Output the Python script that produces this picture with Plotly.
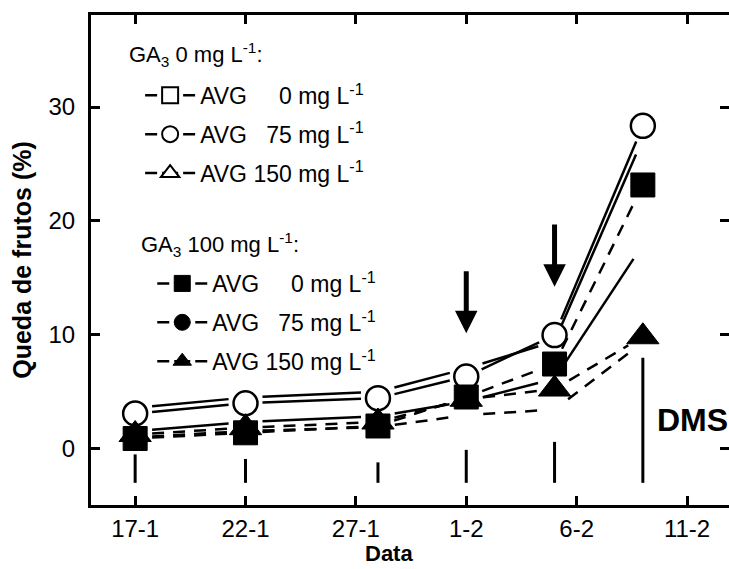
import math
from datetime import datetime, timedelta
import plotly.graph_objects as go

# ---------------- data ----------------
dates = ["2004-01-17", "2004-01-22", "2004-01-28", "2004-02-01", "2004-02-05", "2004-02-09"]

ga0_avg0 = [3.55, 4.45, 4.95, 7.0, 9.4, 27.2]
ga0_avg75 = [3.05, 3.95, 4.4, 6.3, 9.95, 28.35]
ga0_avg150 = [1.5, 2.3, 2.8, 4.1, 6.1, 17.9]
ga100_avg0 = [0.85, 1.35, 1.95, 4.5, 7.4, 23.15]
ga100_avg75 = [0.95, 1.5, 1.85, 2.9, 3.4, 9.3]
ga100_avg150 = [1.2, 1.8, 2.3, 4.3, 5.2, 9.8]

dms_values = [2.5, 2.1, 1.8, 2.9, 3.6, 11.0]
dms_base = -3.05

tick_dates = ["2004-01-17", "2004-01-22", "2004-01-27", "2004-02-01", "2004-02-06", "2004-02-11"]
tick_labels = ["17-1", "22-1", "27-1", "1-2", "6-2", "11-2"]
y_ticks = [0, 10, 20, 30]

arrow_dates = ["2004-02-01", "2004-02-05"]
arrow_tip = [10.1, 14.2]
arrow_tail = [15.7, 19.8]

# ---------------- layout constants ----------------
W, H = 729, 569
ML, MR, MT, MB = 91, 0, 15, 64
X0 = datetime(2004, 1, 15, 0, 0)
X1 = datetime(2004, 2, 12, 21, 40)
YMIN, YMAX = -5.0, 38.1
PW = W - ML - MR
PH = H - MT - MB
SPAN = (X1 - X0).total_seconds()
FONT = "Liberation Sans, Arial, sans-serif"


def to_px(d, v):
    t = datetime.fromisoformat(d)
    return ((t - X0).total_seconds() / SPAN * PW, (v - YMIN) / (YMAX - YMIN) * PH)


def from_px(px, py):
    t = X0 + timedelta(seconds=px / PW * SPAN)
    return t.strftime("%Y-%m-%d %H:%M:%S"), py / PH * (YMAX - YMIN) + YMIN


def gapped(ds, vs, gap=17):
    xs, ys = [], []
    for i in range(len(vs) - 1):
        a = to_px(ds[i], vs[i])
        b = to_px(ds[i + 1], vs[i + 1])
        dx, dy = b[0] - a[0], b[1] - a[1]
        L = math.hypot(dx, dy)
        ux, uy = dx / L, dy / L
        p = from_px(a[0] + ux * gap, a[1] + uy * gap)
        q = from_px(b[0] - ux * gap, b[1] - uy * gap)
        xs += [p[0], q[0], None]
        ys += [p[1], q[1], None]
    return xs, ys


fig = go.Figure()

series = [
    (ga0_avg0, "solid"),
    (ga0_avg75, "solid"),
    (ga0_avg150, "solid"),
    (ga100_avg0, "12px,9px"),
    (ga100_avg75, "12px,9px"),
    (ga100_avg150, "12px,9px"),
]
for vals, dash in series:
    xs, ys = gapped(dates, vals)
    fig.add_trace(go.Scatter(x=xs, y=ys, mode="lines", showlegend=False,
                             line=dict(color="black", width=2.5, dash=dash),
                             hoverinfo="skip"))

# DMS bars
bx, by = [], []
for d, v in zip(dates, dms_values):
    bx += [d, d, None]
    by += [dms_base, dms_base + v, None]
fig.add_trace(go.Scatter(x=bx, y=by, mode="lines", showlegend=False,
                         line=dict(color="black", width=3), hoverinfo="skip"))

# visible markers
fig.add_trace(go.Scatter(x=dates, y=ga0_avg75, mode="markers", showlegend=False,
                         marker=dict(symbol="circle", size=24, color="white",
                                     line=dict(color="black", width=2.5))))
fig.add_trace(go.Scatter(x=dates, y=ga100_avg150, mode="markers", showlegend=False,
                         marker=dict(symbol="triangle-up", size=28, color="black",
                                     line=dict(color="black", width=1))))
fig.add_trace(go.Scatter(x=dates, y=ga100_avg0, mode="markers", showlegend=False,
                         marker=dict(symbol="square", size=24, color="black",
                                     line=dict(color="black", width=1))))

# legend entries
FS = "\u2007"
labels = ["AVG " + FS + FS + "0 mg L<sup>-1</sup>",
          "AVG " + FS + "75 mg L<sup>-1</sup>",
          "AVG 150 mg L<sup>-1</sup>"]
syms = ["square", "circle", "triangle-up"]
LEG_DASH = "12px,5px,16px,5px,12px,40px"
for i, (lab, sym) in enumerate(zip(labels, syms)):
    fig.add_trace(go.Scatter(x=[None], y=[None], mode="lines+markers", name=lab,
                             legend="legend", legendgroup="a%d" % i,
                             line=dict(color="black", width=2.5, dash=LEG_DASH),
                             marker=dict(symbol=sym, size=16, color="white",
                                         line=dict(color="black", width=2))))
for i, (lab, sym) in enumerate(zip(labels, syms)):
    fig.add_trace(go.Scatter(x=[None], y=[None], mode="lines+markers", name=lab,
                             legend="legend2", legendgroup="b%d" % i,
                             line=dict(color="black", width=2.5, dash=LEG_DASH),
                             marker=dict(symbol=sym, size=16, color="black",
                                         line=dict(color="black", width=1))))

for d, tip, tail in zip(arrow_dates, arrow_tip, arrow_tail):
    fig.add_annotation(x=d, y=tip, ax=d, ay=tail, xref="x", yref="y",
                       axref="x", ayref="y", showarrow=True, text="",
                       arrowhead=2, arrowwidth=5, arrowsize=0.9, arrowcolor="black")

fig.add_annotation(x="2004-02-09 13:00", y=2.5, xref="x", yref="y", text="<b>DMS</b>",
                   showarrow=False, xanchor="left", yanchor="middle",
                   font=dict(family=FONT, size=32, color="black"))

# legend group titles
fig.add_annotation(x=0.056, y=0.92, xref="paper", yref="paper",
                   text="GA<sub>3</sub> 0 mg L<sup>-1</sup>:", showarrow=False,
                   xanchor="left", yanchor="middle", font=dict(family=FONT, size=22, color="black"))
fig.add_annotation(x=0.075, y=0.531, xref="paper", yref="paper",
                   text="GA<sub>3</sub> 100 mg L<sup>-1</sup>:", showarrow=False,
                   xanchor="left", yanchor="middle", font=dict(family=FONT, size=22, color="black"))

# x-axis title
fig.add_annotation(x=0.467, y=-0.098, xref="paper", yref="paper", text="<b>Data</b>",
                   showarrow=False, xanchor="center", yanchor="middle",
                   font=dict(family=FONT, size=22, color="black"))

leg_common = dict(bgcolor="rgba(0,0,0,0)", borderwidth=0,
                  font=dict(family=FONT, size=23, color="black"),
                  traceorder="grouped", tracegroupgap=6, itemsizing="trace",
                  itemwidth=50, xanchor="left", yanchor="top")
fig.update_layout(
    width=W, height=H,
    margin=dict(l=ML, r=MR, t=MT, b=MB, pad=0),
    paper_bgcolor="white", plot_bgcolor="white",
    font=dict(family=FONT, size=24, color="black"),
    legend=dict(x=0.077, y=0.88, **leg_common),
    legend2=dict(x=0.096, y=0.496, **leg_common),
    xaxis=dict(type="date",
               range=[X0.strftime("%Y-%m-%d %H:%M:%S"), X1.strftime("%Y-%m-%d %H:%M:%S")],
               tickvals=tick_dates, ticktext=tick_labels,
               showline=True, linecolor="black", linewidth=3, mirror="ticks",
               ticks="inside", ticklen=9, tickwidth=3, tickcolor="black",
               showgrid=False, zeroline=False,
               tickfont=dict(family=FONT, size=24)),
    yaxis=dict(range=[YMIN, YMAX], tickvals=y_ticks,
               showline=True, linecolor="black", linewidth=3, mirror=False,
               ticks="inside", ticklen=9, tickwidth=3, tickcolor="black",
               showgrid=False, zeroline=False, ticklabelstandoff=8,
               tickfont=dict(family=FONT, size=24),
               title=dict(text="<b>Queda de frutos (%)</b>", font=dict(family=FONT, size=25), standoff=10)),
    yaxis2=dict(range=[YMIN, YMAX], tickvals=y_ticks, overlaying="y", side="right",
                showline=False, ticks="inside", ticklen=9, tickwidth=3, tickcolor="black",
                showticklabels=False, showgrid=False, zeroline=False),
)
fig.add_trace(go.Scatter(x=[None], y=[None], yaxis="y2", showlegend=False))

fig.write_html("out.html")
